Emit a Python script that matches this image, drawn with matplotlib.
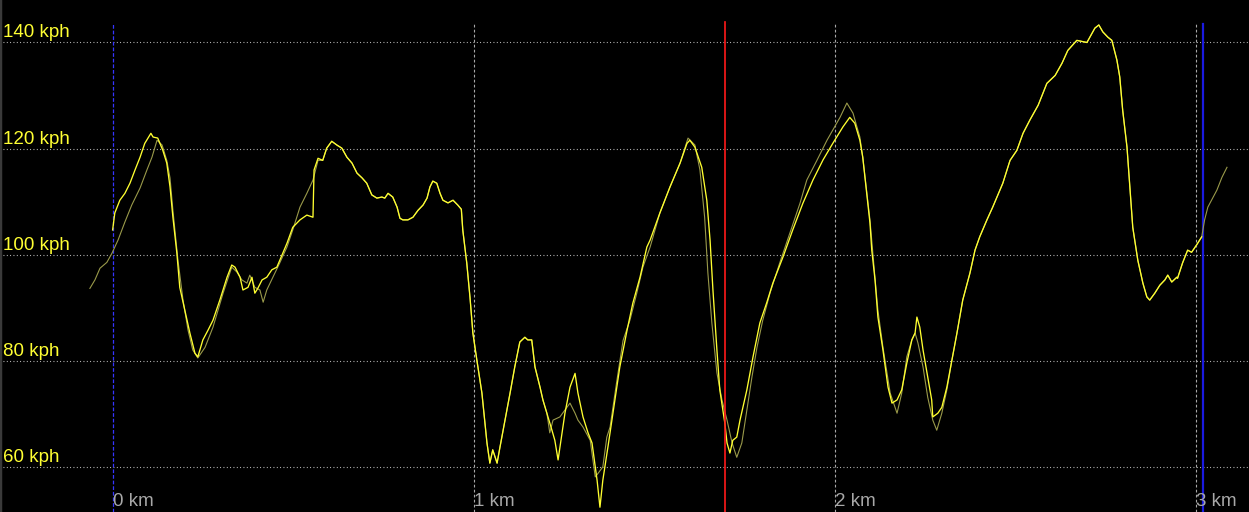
import matplotlib
matplotlib.use("Agg")
import matplotlib.pyplot as plt
from matplotlib.transforms import blended_transform_factory

# ---- data: distance (m) and speed (kph) ----
cur_dist = [0, 6, 20, 34, 48, 62, 76, 89, 106, 112, 125, 139, 150, 159, 167, 178, 186, 200, 214, 228,
            236, 250, 264, 278, 297, 317, 330, 339, 353, 361, 375, 386, 394, 402, 414, 427, 441, 455,
            463, 483, 499, 519, 538, 555, 558, 569, 582, 593, 607, 621, 635, 649, 663, 677, 691, 704,
            718, 732, 746, 754, 763, 776, 788, 796, 804, 818, 832, 846, 860, 871, 879, 887, 898, 907,
            915, 929, 943, 956, 966, 970, 981, 990, 998, 1009, 1023, 1037, 1045, 1053, 1065, 1073, 1087,
            1101, 1114, 1128, 1142, 1150, 1161, 1170, 1184, 1192, 1203, 1217, 1225, 1234, 1245, 1253,
            1267, 1281, 1289, 1303, 1317, 1328, 1342, 1350, 1358, 1372, 1386, 1405, 1425, 1441, 1461,
            1480, 1489, 1516, 1544, 1572, 1591, 1599, 1613, 1632, 1646, 1655, 1663, 1674, 1682, 1696,
            1702, 1710, 1718, 1729, 1738, 1757, 1774, 1793, 1812, 1829, 1857, 1884, 1912, 1940, 1968,
            1995, 2023, 2042, 2056, 2070, 2078, 2098, 2103, 2112, 2120, 2134, 2148, 2159, 2173, 2186,
            2200, 2214, 2223, 2228, 2236, 2245, 2258, 2269, 2272, 2286, 2297, 2311, 2325, 2339, 2355,
            2375, 2389, 2402, 2422, 2438, 2466, 2486, 2505, 2522, 2541, 2564, 2588, 2611, 2630, 2646,
            2671, 2685, 2699, 2713, 2721, 2732, 2743, 2757, 2768, 2782, 2790, 2798, 2810, 2818, 2826,
            2840, 2854, 2865, 2873, 2887, 2901, 2915, 2923, 2934, 2948, 2950, 2964, 2978, 2989, 3003,
            3017]
cur_kph = [104.7, 107.9, 110.3, 111.6, 113.5, 116.0, 118.4, 121.0, 122.9, 122.2, 122.0, 119.7, 117.3,
           112.8, 107.1, 100.3, 93.9, 89.6, 85.3, 81.5, 80.8, 84.0, 85.8, 87.7, 91.5, 95.8, 98.1, 97.7,
           95.8, 93.4, 93.9, 95.8, 92.8, 93.7, 95.3, 95.8, 97.2, 97.7, 99.0, 102.2, 105.2, 106.6, 107.5,
           107.1, 116.0, 118.2, 117.8, 120.1, 121.4, 120.7, 120.1, 118.4, 117.3, 115.4, 114.5, 113.5,
           111.3, 110.7, 110.9, 110.7, 111.6, 110.9, 109.0, 106.9, 106.6, 106.6, 107.1, 108.4, 109.4,
           110.7, 112.8, 113.9, 113.5, 111.6, 110.3, 109.8, 110.3, 109.4, 108.6, 104.7, 98.5, 92.0,
           85.3, 80.2, 74.0, 64.6, 60.8, 63.3, 60.8, 63.8, 68.9, 74.0, 78.9, 83.6, 84.5, 84.0, 84.0,
           78.9, 75.1, 72.7, 70.2, 67.0, 65.1, 61.4, 66.5, 70.2, 75.1, 77.7, 74.0, 69.5, 66.5, 64.6,
           57.6, 52.5, 57.6, 63.8, 70.2, 78.9, 85.8, 90.9, 95.8, 101.5, 102.8, 107.9, 112.8, 117.3,
           121.0, 121.6, 120.3, 116.5, 110.3, 102.8, 93.4, 82.1, 74.6, 68.3, 64.6, 62.7, 65.1, 65.7,
           68.9, 74.6, 80.8, 87.2, 91.0, 94.7, 99.6, 104.7, 109.7, 114.1, 117.9, 121.0, 124.1, 125.9,
           124.8, 121.6, 118.4, 106.0, 100.9, 95.3, 88.3, 82.1, 75.1, 72.1, 72.7, 74.6, 79.6, 84.0,
           85.3, 88.3, 86.4, 82.1, 77.0, 72.7, 69.5, 70.2, 71.3, 75.1, 80.2, 85.3, 91.5, 96.6, 100.9,
           103.4, 106.6, 109.0, 113.5, 117.8, 119.7, 122.9, 125.4, 128.2, 132.3, 133.8, 136.1, 138.5,
           140.4, 140.2, 140.0, 141.7, 142.7, 143.3, 142.0, 141.0, 140.4, 136.7, 133.5, 127.3, 120.3,
           112.8, 105.2, 99.0, 94.7, 92.1, 91.5, 92.8, 94.3, 95.3, 96.2, 94.9, 95.8, 95.6, 98.5, 100.9,
           100.5, 101.9, 103.4]

ref_dist = [-63, -49, -35, -16, -2, 15, 34, 53, 76, 95, 109, 123, 137, 150, 159, 167, 181, 195, 209,
            222, 236, 256, 278, 306, 330, 344, 358, 372, 380, 394, 408, 417, 427, 444, 463, 483, 499,
            519, 538, 555, 569, 582, 593, 607, 621, 635, 649, 663, 677, 691, 704, 718, 732, 746, 754,
            763, 776, 788, 796, 804, 818, 832, 846, 860, 871, 879, 887, 898, 907, 915, 929, 943, 956,
            966, 970, 981, 990, 998, 1009, 1023, 1037, 1045, 1053, 1065, 1073, 1087, 1101, 1114, 1128,
            1142, 1150, 1161, 1170, 1184, 1192, 1203, 1211, 1220, 1239, 1253, 1267, 1281, 1289, 1303,
            1323, 1337, 1345, 1358, 1369, 1378, 1397, 1414, 1433, 1452, 1469, 1489, 1516, 1544, 1572,
            1594, 1613, 1627, 1640, 1649, 1660, 1674, 1688, 1702, 1716, 1729, 1743, 1757, 1771, 1785,
            1801, 1821, 1848, 1876, 1904, 1923, 1951, 1979, 1995, 2015, 2034, 2051, 2070, 2078, 2098,
            2112, 2120, 2134, 2154, 2173, 2186, 2200, 2214, 2223, 2231, 2245, 2258, 2272, 2283, 2297,
            2311, 2325, 2339, 2355, 2375, 2389, 2402, 2422, 2438, 2466, 2486, 2505, 2522, 2541, 2564,
            2588, 2611, 2630, 2646, 2671, 2685, 2699, 2713, 2721, 2732, 2743, 2757, 2768, 2782, 2790,
            2798, 2810, 2818, 2826, 2840, 2854, 2865, 2873, 2887, 2901, 2915, 2923, 2934, 2948, 2950,
            2964, 2978, 2989, 3003, 3017, 3025, 3034, 3059, 3073, 3087]
ref_kph = [93.7, 95.3, 97.5, 98.6, 100.3, 102.8, 106.2, 109.4, 112.6, 116.0, 118.4, 121.6, 120.7, 117.8,
           114.5, 108.4, 99.0, 91.5, 85.8, 82.1, 80.6, 82.6, 86.4, 92.8, 97.7, 96.8, 95.3, 94.7, 96.2,
           93.9, 93.4, 91.1, 93.4, 95.8, 98.5, 101.5, 104.7, 109.0, 111.6, 114.1, 117.8, 117.8, 120.1,
           121.4, 120.7, 120.1, 118.4, 117.3, 115.4, 114.5, 113.5, 111.3, 110.7, 110.9, 110.7, 111.6,
           110.9, 109.0, 106.9, 106.6, 106.6, 107.1, 108.4, 109.4, 110.7, 112.8, 113.9, 113.5, 111.6,
           110.3, 109.8, 110.3, 109.4, 108.6, 104.7, 98.5, 92.0, 85.3, 80.2, 74.0, 64.6, 60.8, 63.3,
           60.8, 63.8, 68.9, 74.0, 78.9, 83.6, 84.5, 84.0, 84.0, 78.9, 75.1, 72.7, 70.2, 66.5, 68.9,
           69.5, 70.8, 72.1, 70.2, 68.9, 67.6, 65.1, 58.2, 58.9, 60.1, 65.7, 67.6, 76.4, 83.9, 87.7,
           92.8, 97.7, 101.5, 107.9, 112.8, 117.3, 122.0, 120.7, 116.0, 107.1, 96.6, 87.2, 77.8, 72.7,
           68.9, 64.6, 61.9, 64.6, 70.8, 77.0, 82.6, 87.7, 92.8, 98.5, 104.1, 109.7, 114.1, 117.8,
           121.6, 123.5, 125.9, 128.6, 126.7, 122.2, 118.4, 106.6, 95.6, 89.6, 82.6, 74.0, 70.2, 74.0,
           80.8, 84.0, 85.3, 83.4, 78.9, 73.2, 68.9, 67.0, 70.2, 74.6, 80.2, 85.3, 91.5, 96.6, 100.9,
           103.4, 106.6, 109.0, 113.5, 117.8, 119.7, 122.9, 125.4, 128.2, 132.3, 133.8, 136.1, 138.5,
           140.4, 140.2, 140.0, 141.7, 142.7, 143.3, 142.0, 141.0, 140.4, 136.7, 133.5, 127.3, 120.3,
           112.8, 105.2, 99.0, 94.7, 92.1, 91.5, 92.8, 94.3, 95.3, 96.2, 94.9, 95.8, 95.6, 98.5, 100.9,
           100.5, 101.9, 103.4, 106.6, 109.0, 112.2, 114.6, 116.5]

y_ticks = [60, 80, 100, 120, 140]
y_labels = ["60 kph", "80 kph", "100 kph", "120 kph", "140 kph"]
x_ticks = [0, 1000, 2000, 3000]
x_labels = ["0 km", "1 km", "2 km", "3 km"]
lap_start = 0
lap_end = 3020
cursor = 1696

fig = plt.figure(figsize=(12.49, 5.12), dpi=100, facecolor="black")
ax = fig.add_axes([0, 0, 1, 1])
ax.set_facecolor("black")
ax.set_xlim(-312, 3148)
ax.set_ylim(51.6, 148.0)
ax.set_axis_off()

font = ["Liberation Sans", "DejaVu Sans"]

# horizontal grid
for yv in y_ticks:
    ax.axhline(yv, xmin=3 / 1249, xmax=1, color="#d0d0d0", lw=0.8,
               linestyle=(0, (0.8, 2.2)), zorder=1)
# vertical grid
top = 1 - 24 / 512
for xv in x_ticks[1:]:
    ax.axvline(xv, ymin=0, ymax=top, color="#a8a8a8", lw=0.8,
               linestyle=(0, (2.5, 2.0)), zorder=1)

ax.axvline(lap_start, ymin=0, ymax=top, color="#3535ff", lw=0.9,
           linestyle=(0, (3, 1.5)), zorder=2)
ax.axvline(lap_end, ymin=0, ymax=top, color="#1a1ae0", lw=1.6, zorder=2)

ax.plot(ref_dist, ref_kph, color="#9a9a4a", lw=0.8, zorder=3)
ax.plot(cur_dist, cur_kph, color="#ffff30", lw=0.95, zorder=4)

ax.axvline(cursor, ymin=0, ymax=1 - 22 / 512, color="#ff1a1a", lw=1.2, zorder=5)

# left border
ax.axvline(-312, color="#3a3a3a", lw=2.5, zorder=6)

tr_y = blended_transform_factory(ax.transAxes, ax.transData)
for yv, lab in zip(y_ticks, y_labels):
    ax.text(3 / 1249, yv + 0.2, lab, transform=tr_y, color="#ffff33",
            fontsize=13.5, family=font, ha="left", va="bottom", zorder=7)

tr_x = blended_transform_factory(ax.transData, ax.transAxes)
for xv, lab in zip(x_ticks, x_labels):
    ax.text(xv, 2 / 512, lab, transform=tr_x, color="#a8a8a8",
            fontsize=13.5, family=font, ha="left", va="bottom", zorder=7)

fig.savefig("out.png", dpi=100, facecolor="black")
